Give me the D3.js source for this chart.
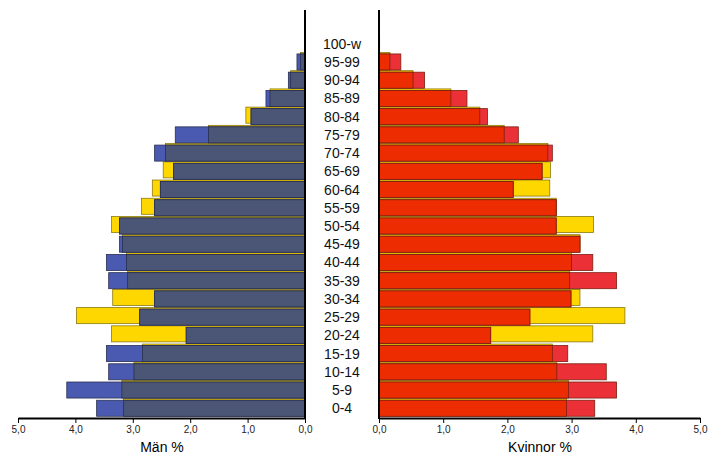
<!DOCTYPE html>
<html><head><meta charset="utf-8">
<script src="https://cdn.jsdelivr.net/npm/d3@7"></script>
<style>body{margin:0;background:#fff}text{font-family:"Liberation Sans",Arial,sans-serif}</style>
</head><body><svg id="c" width="709" height="459"></svg>
<script>
// age groups, bottom to top
const ages = ['0-4','5-9','10-14','15-19','20-24','25-29','30-34','35-39','40-44','45-49','50-54','55-59','60-64','65-69','70-74','75-79','80-84','85-89','90-94','95-99','100-w'];
// series A (blue / red) and series B (yellow)
const manA = [3.63,4.15,3.42,3.46,2.07,2.88,2.62,3.42,3.46,3.23,3.23,2.62,2.52,2.29,2.62,2.26,0.94,0.68,0.29,0.14,0.01];
const manB = [3.16,3.19,2.98,2.83,3.37,3.98,3.35,3.09,3.11,3.18,3.37,2.85,2.66,2.47,2.43,1.68,1.03,0.61,0.25,0.08,0.0];
const kvA  = [3.36,3.70,3.54,2.94,1.74,2.35,2.99,3.70,3.33,3.13,2.76,2.76,2.09,2.54,2.70,2.17,1.69,1.37,0.71,0.34,0.01];
const kvB  = [2.92,2.95,2.77,2.70,3.33,3.83,3.13,2.97,3.00,3.13,3.34,2.76,2.66,2.67,2.63,1.95,1.57,1.12,0.53,0.17,0.0];
const ticks = [0,1,2,3,4,5];

const svg = d3.select('#c');
const AXIS_Y = 418;
const y = d3.scaleBand().domain(ages).range([AXIS_Y - 1, 35]).paddingInner(0.12).paddingOuter(0.04);
const xL = d3.scaleLinear().domain([0, 5]).range([305, 18]);
const xR = d3.scaleLinear().domain([0, 5]).range([379, 700]);
const fmt = d => d.toFixed(1).replace('.', ',');

function side(x, A, B, colA, colOv, strokeA) {
  const g = svg.append('g');
  ages.forEach((a, i) => {
    const y0 = y(a), h = y.bandwidth();
    const rect = (v, fill, stroke, dy) => {
      if (v <= 0) return;
      g.append('rect').attr('x', Math.min(x(0), x(v))).attr('width', Math.abs(x(v) - x(0)))
        .attr('y', y0 + dy).attr('height', h).attr('fill', fill)
        .attr('stroke', stroke).attr('stroke-width', 0.8);
    };
    rect(B[i], '#ffd700', '#8a7a10', -1.5);
    rect(A[i], colA, strokeA, 0);
    rect(Math.min(A[i], B[i]), colOv, strokeA, 0);
  });
  g.append('line').attr('x1', x(0)).attr('x2', x(0)).attr('y1', 10).attr('y2', AXIS_Y + 1)
    .attr('stroke', '#000').attr('stroke-width', 2);
  const ax = svg.append('g').attr('transform', `translate(0,${AXIS_Y})`)
    .call(d3.axisBottom(x).tickValues(ticks).tickFormat(fmt).tickSize(5).tickSizeOuter(0));
  ax.select('.domain').attr('stroke-width', 2);
  ax.selectAll('text').attr('font-size', 10).attr('font-family', '"Liberation Sans",Arial').attr('fill', '#222');
}
side(xL, manA, manB, '#4a5ab0', '#4b5575', '#2a2f50');
side(xR, kvA, kvB, '#ec3038', '#ee2c02', '#7a2010');

svg.append('g').selectAll('text').data(ages).join('text')
  .attr('x', 342).attr('y', d => y(d) + y.bandwidth() / 2 + 5)
  .attr('text-anchor', 'middle').attr('font-size', 14).attr('fill', '#111').text(d => d);

svg.append('text').attr('x', 162).attr('y', 452).attr('text-anchor', 'middle').attr('font-size', 14).text('Män %');
svg.append('text').attr('x', 540).attr('y', 452).attr('text-anchor', 'middle').attr('font-size', 14).text('Kvinnor %');
</script></body></html>
